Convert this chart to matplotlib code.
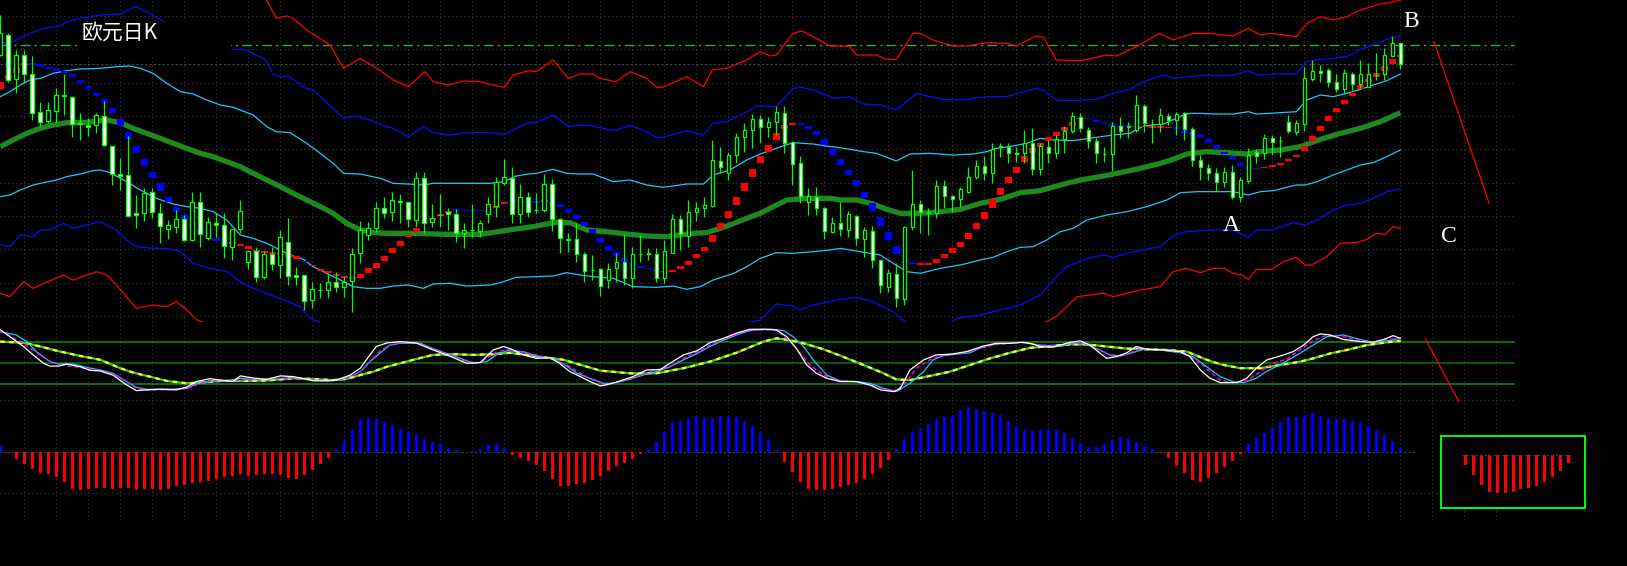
import numpy as np
import matplotlib.pyplot as plt
from matplotlib.patches import Rectangle

plt.rcParams['font.family'] = ['Noto Sans CJK SC', 'DejaVu Sans']

# price pane readings are taken top-down off the chart (3 units per pixel)
# and turned into a price with price = TOP - reading
TOP = 960

o_rd = [165, 105, 238, 165, 222, 337, 362, 332, 289, 290,
        369, 376, 376, 347, 437, 522, 525, 640, 640, 577,
        640, 688, 680, 657, 720, 605, 713, 670, 675, 740,
        687, 787, 753, 832, 762, 795, 725, 826, 826, 900,
        869, 870, 845, 862, 843, 760, 705, 685, 625, 637,
        604, 605, 660, 535, 667, 646, 637, 643, 700, 691,
        692, 643, 617, 548, 533, 643, 592, 629, 630, 553,
        657, 717, 718, 763, 809, 808, 840, 805, 787, 835,
        763, 759, 763, 835, 758, 658, 708, 635, 625, 617,
        482, 518, 465, 412, 390, 358, 380, 367, 340, 427,
        490, 607, 590, 625, 695, 668, 690, 647, 718, 693,
        780, 860, 823, 898, 680, 613, 636, 640, 558, 588,
        598, 575, 532, 497, 518, 441, 442, 459, 460, 428,
        508, 442, 460, 418, 392, 350, 390, 423, 461, 462,
        378, 381, 390, 318, 371, 372, 348, 360, 340, 388,
        480, 505, 520, 547, 515, 592, 542, 457, 458, 415,
        424, 365, 395, 372, 237, 213, 210, 247, 268, 222,
        253, 260, 226, 222, 168, 130]
c_rd = [100, 240, 165, 222, 338, 365, 330, 285, 286, 372,
        371, 382, 345, 435, 522, 528, 648, 646, 578, 637,
        678, 676, 657, 720, 605, 702, 667, 676, 738, 688,
        632, 753, 832, 762, 793, 710, 828, 830, 903, 868,
        871, 845, 862, 845, 762, 690, 683, 625, 640, 600,
        606, 658, 535, 668, 655, 644, 643, 700, 690, 689,
        670, 613, 547, 532, 643, 592, 635, 631, 553, 658,
        715, 719, 763, 812, 811, 858, 808, 787, 835, 763,
        761, 761, 835, 753, 658, 703, 637, 625, 615, 480,
        502, 465, 410, 390, 358, 382, 367, 337, 430, 493,
        587, 587, 625, 693, 668, 686, 643, 715, 690, 780,
        855, 820, 895, 680, 613, 637, 638, 558, 587, 598,
        567, 530, 497, 520, 448, 439, 460, 461, 428, 508,
        438, 460, 418, 392, 348, 385, 423, 460, 463, 378,
        393, 379, 315, 368, 373, 345, 360, 343, 388, 480,
        502, 520, 545, 515, 592, 540, 465, 468, 415, 425,
        422, 392, 370, 235, 213, 220, 247, 268, 220, 253,
        223, 223, 224, 165, 130, 193]
h_rd = [45, 100, 150, 150, 168, 307, 305, 265, 222, 287,
        340, 355, 340, 303, 437, 475, 407, 585, 565, 565,
        610, 660, 630, 645, 577, 577, 652, 640, 640, 688,
        600, 752, 740, 752, 740, 690, 655, 800, 826, 845,
        848, 820, 815, 828, 745, 662, 665, 605, 590, 577,
        582, 605, 515, 517, 612, 583, 625, 627, 670, 612,
        660, 590, 530, 477, 502, 552, 577, 578, 522, 538,
        655, 700, 670, 757, 765, 803, 790, 760, 702, 740,
        705, 745, 745, 720, 642, 645, 600, 605, 590, 420,
        440, 455, 400, 370, 343, 345, 350, 318, 317, 425,
        468, 563, 562, 620, 652, 607, 632, 645, 680, 678,
        780, 808, 790, 678, 510, 600, 625, 540, 540, 585,
        560, 500, 480, 467, 430, 428, 430, 440, 390, 385,
        428, 420, 405, 378, 335, 340, 382, 415, 440, 365,
        350, 365, 285, 312, 358, 325, 340, 335, 335, 380,
        465, 492, 505, 500, 495, 530, 445, 448, 402, 405,
        408, 345, 360, 200, 180, 195, 205, 222, 207, 215,
        180, 190, 158, 143, 108, 130]
l_rd = [168, 245, 280, 245, 360, 378, 370, 368, 345, 412,
        420, 408, 400, 437, 555, 570, 652, 683, 662, 655,
        730, 718, 700, 722, 722, 742, 720, 710, 773, 780,
        698, 808, 845, 838, 810, 835, 855, 855, 930, 925,
        895, 895, 875, 890, 935, 790, 720, 697, 655, 662,
        668, 680, 680, 700, 682, 680, 690, 727, 745, 712,
        710, 670, 652, 555, 668, 670, 650, 638, 637, 692,
        760, 757, 785, 845, 840, 888, 865, 845, 855, 865,
        785, 780, 845, 850, 760, 750, 742, 662, 652, 620,
        520, 540, 490, 455, 445, 430, 410, 405, 460, 555,
        610, 645, 645, 718, 700, 708, 712, 735, 770, 805,
        880, 875, 920, 915, 690, 700, 705, 655, 625, 637,
        622, 578, 538, 540, 548, 470, 488, 485, 490, 525,
        525, 488, 475, 458, 400, 395, 445, 488, 485, 512,
        415, 415, 395, 395, 428, 395, 375, 405, 420, 498,
        540, 540, 572, 560, 598, 605, 550, 490, 478, 465,
        470, 398, 405, 392, 242, 245, 260, 275, 280, 270,
        265, 262, 240, 240, 172, 207]

# trend blocks under the candles: colour, top and bottom readings
mk_col = ("rrrr" + "bbbbbbbbbbbbbbbbbbbbbbbbb" + "rrrrrrrrr" + "b" + "rrrrrrrrrrrrrrrrrr"
          + "bbbbb" + "rr" + "bbbb" + "r" + "bbbbbbbbbbbbbb" + "rrrrrrrrrrrrrrrrr"
          + "bbbbbbbbbbbbbbb" + "rrrrrrrrrrrrrrrrrrrrr" + "bbbbbb" + "rrrrr"
          + "bbbbbbbbbbb" + "rrrrrrrrrrrrrrrrrr")
mk_top = [245, 225, 203, 188, 188, 192, 200, 205, 212, 222,
          240, 258, 280, 298, 323, 358, 395, 438, 478, 515,
          550, 590, 622, 645, 668, 688, 700, 715, 725, 727,
          732, 738, 750, 752, 755, 758, 762, 768, 783, 795,
          807, 813, 822, 828, 830, 823, 805, 788, 768, 745,
          722, 705, 683, 665, 655, 643, 633, 628, 630, 630,
          630, 628, 618, 605, 600, 602, 603, 604, 600, 605,
          612, 628, 645, 665, 688, 713, 738, 756, 773, 788,
          797, 803, 808, 812, 810, 797, 783, 763, 740, 705,
          670, 633, 592, 548, 507, 468, 435, 400, 375, 368,
          370, 378, 393, 418, 447, 478, 510, 540, 575, 610,
          652, 697, 738, 782, 785, 790, 788, 777, 762, 745,
          727, 698, 668, 636, 598, 563, 530, 500, 468, 445,
          428, 410, 395, 380, 367, 353, 353, 360, 365, 372,
          375, 375, 377, 378, 378, 379, 380, 382, 390, 395,
          403, 418, 436, 455, 467, 490, 500, 503, 500, 495,
          489, 478, 465, 437, 408, 378, 348, 323, 300, 280,
          255, 237, 220, 198, 178, 165]
mk_bot = [268, 236, 218, 196, 195, 200, 207, 212, 218, 232,
          250, 268, 288, 308, 340, 378, 418, 460, 497, 533,
          572, 605, 635, 660, 680, 698, 710, 723, 735, 732,
          737, 746, 755, 758, 762, 765, 770, 776, 786, 798,
          812, 820, 828, 834, 838, 833, 818, 803, 783, 760,
          737, 712, 695, 670, 660, 648, 638, 633, 634, 634,
          634, 633, 623, 611, 606, 607, 608, 608, 605, 612,
          622, 638, 657, 677, 700, 728, 752, 768, 785, 798,
          803, 808, 815, 816, 815, 807, 795, 773, 752, 725,
          688, 653, 615, 573, 530, 490, 455, 420, 388, 374,
          376, 387, 405, 435, 465, 495, 525, 558, 593, 632,
          677, 720, 762, 790, 792, 796, 795, 788, 773, 758,
          740, 717, 688, 657, 623, 585, 548, 518, 485, 458,
          440, 422, 407, 392, 377, 358, 358, 366, 370, 377,
          380, 380, 382, 382, 383, 383, 384, 387, 398, 405,
          412, 428, 447, 462, 478, 497, 506, 508, 504, 500,
          494, 483, 470, 452, 422, 392, 362, 335, 311, 287,
          267, 247, 230, 212, 192, 172]

# band lines: candle index and reading at each vertex
ma_k = [0, 1.6, 3.3, 5, 6.6, 8.3, 10, 11.6, 13.3, 15, 16.6, 18.3, 20, 21.6, 23.3, 25, 26.6, 28.3, 30, 31.6,
        33.3, 35, 36.6, 38.3, 40, 41.6, 43.3, 45, 46.6, 48.3, 51.6, 55.8, 60, 64.1, 66.6, 69.1, 71.2, 73.3,
        75.8, 78.3, 80.8, 83.3, 86.6, 88.3, 90, 91.7, 93.3, 95, 96.6, 98.3, 100.8, 103.7, 105, 107, 109.1,
        110.8, 112.5, 115, 117.5, 120, 122.5, 125, 127.5, 130, 132.5, 135, 137.5, 140, 142.5, 145, 146.6,
        148.3, 150.8, 153.3, 155.8, 157.5, 160, 162.5, 165, 167.5, 170, 172.5, 175]
ma_v = [440, 420, 400, 385, 375, 368, 368, 365, 360, 368, 385, 400, 415, 430, 445, 460, 470, 485, 500, 520,
        540, 560, 580, 600, 620, 640, 670, 690, 698, 700, 700, 703, 703, 688, 680, 668, 668, 690,
        695, 702, 708, 710, 700, 698, 685, 670, 655, 640, 620, 600, 595, 595, 600, 600, 612,
        628, 640, 640, 635, 628, 610, 598, 578, 572, 555, 540, 530, 518, 505, 490, 478,
        462, 455, 458, 462, 455, 450, 440, 418, 400, 385, 365, 338]

cu_k = [0, 1.2, 2.5, 3.7, 5, 6.6, 8.3, 10, 12.5, 14.5, 16.2, 17.5, 19.1, 20.8, 22.5, 24.1, 25.8, 27.5, 29.1,
        31.6, 33.3, 34.5, 36.2, 38.3, 40, 41.6, 42.9, 45, 47.5, 49.1, 51, 52.9, 54.1, 57.9, 61.2, 62.9, 64.5,
        66, 67, 69.1, 70.8, 72.5, 74.1, 76.6, 78.7, 80.8, 82.9, 85.8, 87.9, 89.1, 91.2, 93.3, 95, 97, 99.1,
        101.6, 103.7, 104.1, 106.2, 107.9, 109.5, 112, 113.7, 116.2, 119.1, 121.6, 123.3, 124.5, 126.6,
        128.3, 130, 131.6, 134.1, 137, 139.1, 141.2, 142.9, 145.4, 147.9, 148.7, 150, 151.6, 154.1, 156,
        157, 158.7, 162, 163.3, 165, 166.6, 168.3, 170, 171.6, 173.3, 175]
cu_v = [290, 275, 255, 240, 235, 220, 212, 207, 205, 200, 198, 205, 220, 250, 275, 282, 300, 315, 322,
        345, 380, 395, 398, 430, 460, 490, 520, 522, 535, 550, 552, 555, 550, 550, 550, 545, 528,
        522, 520, 508, 520, 522, 522, 545, 540, 555, 562, 552, 552, 525, 510, 480, 462, 445, 428,
        432, 440, 440, 448, 455, 460, 483, 462, 460, 465, 462, 455, 445, 438,
        430, 415, 420, 422, 412, 405, 400, 378, 372, 345, 340, 340, 342, 342, 335,
        342, 340, 335, 300, 285, 290, 280, 268, 255, 242, 222]

cl_k = [0, 1.2, 2.5, 4.1, 5.4, 7, 8.3, 10, 11.6, 12.5, 13.7, 15.8, 17.5, 19.5, 21.6, 23.3, 25, 26.6, 28.3,
        30, 31.6, 33.3, 35, 36.2, 37.9, 39.1, 40.8, 42.5, 44.1, 45.8, 47.5, 49.1, 51, 52.9, 54.1, 56.2,
        58.3, 61.2, 62.5, 64.5, 67, 69.1, 70.8, 72.5, 74.1, 76.6, 79.1, 82, 84.1, 85.8, 87.5, 89.1, 91.7,
        93.3, 95, 97, 99.1, 101.6, 103.7, 105, 107.5, 110, 111.6, 113.3, 115, 117.5, 120, 122.5, 124.1,
        125.8, 127.5, 129.1, 130.8, 132.5, 134.1, 135.8, 138.3, 140.8, 143.3, 145.8, 147.5, 149.6, 150,
        152, 154.1, 156, 157.5, 159.1, 162, 163.1, 164.6, 166.6, 168.3, 170, 171.6, 173.3, 175]
cl_v = [590, 585, 570, 555, 548, 540, 530, 522, 512, 510, 518, 545, 570, 595, 612, 620, 625, 635, 660,
        705, 715, 730, 750, 765, 778, 800, 820, 840, 860, 865, 865, 858, 855, 865, 852, 850,
        858, 855, 848, 832, 830, 828, 818, 825, 830, 835, 860, 862, 858, 868, 860, 840, 820,
        800, 775, 758, 760, 755, 750, 745, 755, 765, 790, 815, 820, 805, 795, 780, 772,
        755, 742, 740, 720, 695, 685, 660, 645, 635, 620, 600, 578, 575, 575,
        575, 575, 585, 575, 572, 555, 555, 545, 525, 510, 495, 488, 470, 450]

bu_k = [0, 1.6, 3.7, 5.4, 7.5, 8.3, 10, 12.5, 15, 16.8, 18.3, 20.4, 24.5, 28.7, 30.4, 32, 33.1, 34.1, 35,
        36, 37.9, 39.1, 40, 41.6, 42.9, 44.5, 46.2, 47.9, 49.1, 51, 52.9, 54.1, 56.2, 58.3, 60, 61.2, 63,
        64.5, 66, 67, 69.1, 71, 72.5, 74.1, 76.6, 78.7, 80.8, 82, 82.8, 85.8, 87.9, 89.1, 90.8, 93.3,
        94.6, 97, 99.1, 100.2, 101.6, 103.7, 104.1, 106.2, 107.9, 110, 112, 114.5, 116.2, 117.9, 120.4,
        121.6, 123.3, 125.8, 127.5, 129.5, 130.4, 132, 134.1, 137, 139.1, 141.2, 142.9, 145.4, 146.7,
        148.7, 150.8, 152, 154.1, 156, 157.2, 159.1, 162, 163.3, 165, 166.6, 168.3, 170, 171.6, 173.3, 175]
bu_v = [130, 125, 100, 85, 78, 65, 55, 45, 42, 20, 35, 65, 105, 148, 148, 165, 178, 222, 230,
        228, 262, 270, 290, 325, 355, 348, 360, 378, 385, 410, 380, 398, 405, 398, 398, 398, 403,
        385, 368, 368, 345, 380, 375, 378, 392, 377, 395, 412, 412, 392, 405, 370, 365, 335,
        318, 320, 265, 262, 270, 290, 295, 290, 312, 315, 330, 280, 290, 298, 300,
        295, 290, 290, 278, 265, 272, 300, 302, 298, 280, 268, 245, 225, 235,
        230, 225, 228, 225, 212, 225, 222, 222, 185, 178, 175, 170, 148, 135, 118, 107]

bl_k = [0, 1.2, 2.5, 4.1, 5, 6.2, 7.9, 9.1, 10.8, 12.5, 13.7, 14.5, 15.8, 17, 19.1, 20.8, 22.5, 24.1,
        26.2, 28.3, 30, 31.6, 33.3, 35.4, 37.5, 38.3, 39.1, 45, 55, 65, 75, 85, 92, 95, 97, 99.1, 99.9,
        101.6, 103.7, 104.5, 107, 109.1, 111.6, 112.5, 115, 118, 119.5, 122.5, 125.8, 127.5, 130,
        131.6, 133.3, 135.8, 137.9, 139.1, 140.8, 143.7, 145, 146.7, 148.3, 150, 151.6, 154.1, 156,
        157, 158.9, 160.2, 161.6, 163.1, 164.6, 166.6, 168.3, 170, 171.6, 173.3, 175]
bl_v = [735, 740, 705, 710, 690, 690, 670, 685, 675, 665, 680, 690, 720, 740, 745, 745, 755, 790,
        805, 815, 845, 865, 880, 900, 920, 945, 960, 1000, 1010, 1000, 1010, 1000, 975, 960, 912, 918,
        930, 915, 905, 900, 892, 905, 935, 955, 990, 985, 955, 945, 925, 915, 885,
        840, 800, 775, 765, 772, 760, 745, 740, 705, 695, 692, 690, 690, 712,
        690, 690, 680, 668, 675, 660, 630, 615, 610, 595, 575, 567]

ru_k = [0, 10, 20, 28, 33.3, 34.5, 35.8, 36.6, 38.3, 41.2, 42.9, 45, 47.5, 49.1, 51, 53.1, 54.1, 56, 57.9,
        60, 61.2, 63, 64.1, 66, 67, 69.1, 71, 72.5, 74.1, 74.9, 77, 78.7, 80.8, 82, 82.8, 85.8, 87.9, 89,
        90.8, 93.3, 95, 96.2, 97, 99.1, 100.2, 101.6, 103.7, 105, 106.2, 107, 109.5, 110.7, 112, 114.1,
        115, 116.6, 119.1, 120.8, 123.3, 125.8, 127, 129.5, 130.4, 132, 135, 138.3, 139.5, 142, 144.9,
        146.6, 149.1, 151.2, 154.1, 156, 157.5, 158.7, 160.4, 162, 163.3, 165, 166.6, 168.3, 170, 172.5,
        174.2, 175]
ru_v = [-150, -130, -100, -60, 0, 55, 48, 55, 90, 135, 205, 175, 212, 240, 260, 215, 245, 255, 243,
        245, 253, 262, 225, 212, 215, 180, 235, 222, 222, 235, 245, 215, 235, 262, 262, 230, 260, 210,
        205, 180, 155, 168, 165, 100, 93, 110, 138, 138, 140, 165, 165, 178, 178, 100,
        100, 120, 138, 138, 128, 130, 138, 108, 112, 180, 182, 165, 168, 140, 100,
        120, 100, 100, 108, 85, 105, 100, 105, 110, 70, 50, 60, 50, 30, 12,
        5, 0]

rl_k = [0, 1.2, 2.9, 4.1, 5, 7.9, 9.1, 12, 13.3, 14.5, 15.4, 17, 19.1, 20.8, 22, 23.3, 24.6, 30, 40, 50,
        60, 70, 80, 90, 100, 110, 120, 128, 131.6, 132, 134.6, 137.9, 139.1, 142.5, 145, 146.6, 148.3,
        150, 151.6, 153, 154.1, 155.2, 156, 157, 158.9, 160.4, 162, 163.1, 163.9, 165.8, 167.5, 169.6,
        170.8, 172, 173.1, 174.1, 175]
rl_v = [880, 890, 845, 865, 855, 825, 840, 815, 825, 855, 880, 925, 915, 920, 905, 930, 960, 1010, 1060,
        1080, 1070, 1060, 1050, 1060, 1060, 1060, 1040, 1000, 955, 950, 890, 880, 890, 870, 860, 815,
        805, 818, 805, 805, 820, 825, 838, 808, 808, 785, 772, 795, 795, 770, 730, 727, 718, 700, 703,
        680, 685]

# oscillator pane (0..100)
wk = [0, 1.2, 2.9, 4.1, 5.4, 6.2, 7.3, 8.3, 10, 11.2, 12.5, 14.1, 15.8, 17, 18.3, 20, 22, 23.3, 24.5, 26.2,
      27.5, 29.1, 30, 31.6, 33.3, 35, 36.6, 38.3, 39.1, 40.8, 42, 43.7, 45, 46.2, 47, 48.3, 50, 52, 54.1, 55.8,
      58.3, 60, 61.6, 62.9, 63.7, 65.4, 67, 68.7, 69.9, 71.2, 72.5, 73.7, 75, 76.2, 77.5, 79.1, 80.8, 82.5,
      83.7, 85.4, 87.1, 88.7, 90.4, 92, 93.7, 95.4, 97, 98.3, 99.5, 100.8, 102, 103.3, 105, 107, 108.7, 110,
      111.7, 112.5, 113.7, 115.4, 117, 118.7, 120.8, 122.9, 124.5, 126.2, 127.9, 128.7, 130, 131.6, 133.7,
      135, 136.2, 137.5, 138.3, 139.5, 140.8, 142, 143.3, 145.4, 147.5, 148.7, 150, 151.2, 152.5, 154.6,
      155.8, 157, 158.3, 160, 161.6, 162.9, 164.1, 165, 166.2, 167.9, 170, 171.6, 172.9, 174.1, 175]
wv = [98, 88, 74, 62, 50, 46, 46, 49, 45, 40, 39, 33, 19, 11, 12, 13, 12, 16, 24, 28,
      26, 24, 32, 29, 27, 32, 31, 27, 25, 25, 26, 33, 43, 62, 74, 79, 81, 79, 69, 62,
      50, 51, 69, 74, 71, 62, 57, 58, 50, 38, 31, 24, 17.6, 20.5, 25, 31, 40.5, 41, 50, 62,
      68, 79.5, 85.7, 93, 98.6, 98.6, 97.6, 88, 71.4, 47.6, 35.7, 28.6, 23.8, 23.8, 19, 12, 9.5, 14, 40.5, 54.8,
      62, 62.9, 66.7, 74.8, 78.6, 78.6, 80, 78.6, 74, 73, 80, 82, 76, 64, 57, 59.5, 65, 74, 70, 69,
      66.7, 59.5, 40.5, 28.6, 22.4, 22.4, 28.6, 43, 54.8, 60.5, 66.7, 76, 88, 92, 90.5, 84, 81, 80, 84, 89.5,
      85.7]
ck = [0, 2, 3.3, 4.5, 6.2, 7.25, 9.1, 10.8, 12.5, 14.1, 15.8, 17, 18.3, 20.8, 23.3, 24.5, 26.2, 28.3, 30, 31.6,
      33.3, 35.4, 37.5, 39.1, 40.8, 42.5, 43.7, 45, 46.2, 47.5, 48.7, 50, 52.5, 54.1, 55.8, 57.5, 59.1, 60.8, 62,
      63.3, 65.4, 67.1, 69.1, 70.8, 72.1, 73.7, 75.4, 76.6, 78.3, 80.4, 82, 83.7, 85.4, 87.1, 88.7, 90.4, 92,
      93.7, 96.2, 97.9, 99.1, 100.4, 101.6, 103.3, 105, 107.1, 108.7, 110.4, 112, 113.7, 115.4, 116.6, 117.9,
      119.5, 121.2, 122.9, 124.5, 126.2, 127.5, 130, 132.5, 133.7, 135.4, 137, 138.7, 140, 141.2, 142.9, 145,
      147.5, 149.1, 150.8, 152.5, 154.1, 155.4, 157, 158.2, 160.3, 162.4, 164.1, 165.8, 167.9, 170, 171.6,
      173.3, 175]
cv = [95, 90.5, 81, 66.7, 52.4, 49, 49, 44, 40.5, 35.7, 23.8, 15.7, 12.9, 12.9, 14.3, 20.5, 25, 25, 28.6, 27,
      27, 28.6, 28.6, 26, 24.8, 26, 31, 38, 52.4, 65, 76, 78.6, 78.6, 71, 64, 57, 50, 52.4, 62, 68,
      66.7, 59.5, 57, 46, 35.7, 28.6, 21.4, 21.4, 26, 33.3, 38, 45, 55, 64, 74, 83, 90.5, 96.7, 99, 96.7,
      88, 74, 55, 33.3, 24.8, 23.8, 21.4, 14.3, 9.5, 21.4, 38, 55, 61, 63, 65, 74, 77.6, 78.6, 80, 76,
      74, 78.6, 78.6, 71, 62, 60.5, 64, 70, 69, 65, 59.5, 45, 31, 23.8, 22.4, 28.6, 38, 50, 64, 76,
      88, 90.5, 84, 80, 82, 85.7]
mgk = [0, 2.5, 4.1, 5.8, 7.5, 10, 12.5, 14.1, 15.8, 17, 18.3, 20.8, 23.3, 25, 26.6, 29.1, 31.6, 34.1, 36.6,
       39.1, 41.6, 43.3, 45, 46.2, 47.5, 48.7, 50, 52.5, 54.1, 55.8, 58.3, 60, 61.6, 63.3, 66.2, 68.7, 70.8,
       72.5, 74.1, 75.8, 77.5, 79.5, 81.6, 83.7, 85.8, 87.9, 89.5, 91.2, 92.9, 95, 97, 98.7, 100, 101.2,
       102.9, 104.5, 107, 109.1, 110.8, 112, 113.3, 114.5, 116.2, 117.9, 120, 122, 124.1, 126.2, 127.5, 130,
       132.5, 134.1, 135.8, 137.5, 139.1, 140.8, 142.5, 145, 147.5, 149.5, 151.2, 152.5, 154.1, 155.8,
       157.5, 159.1, 160.8, 162.4, 164.1, 165.8, 167.9, 170, 171.6, 173.3, 175]
mgv = [96, 81, 69, 55, 47.6, 44, 39.5, 34.8, 23.8, 14.3, 12, 12, 13.8, 21.4, 25, 25, 27, 28.6, 28.6, 26,
       25, 28.6, 38, 52.4, 68, 76, 79.5, 78.6, 70, 63, 52.4, 51, 64, 70, 64, 57, 47.6, 35.7, 26, 19,
       23.8, 31, 39.5, 45, 59.5, 71, 81, 88, 95, 98.5, 97.6, 81, 64, 47.6, 33.3, 26, 23.8, 17.6, 12, 11,
       23.8, 43, 55, 62, 64, 70, 76, 78.6, 80, 76, 75, 79.5, 77.6, 69, 59.5, 63, 71, 69, 66.7, 55,
       38, 26, 22.4, 25, 38, 50, 55.7, 69, 82, 90.5, 88, 82, 80, 84, 85.7]
sk = [0, 1.6, 3.3, 5, 7.5, 10, 12.5, 15, 16.6, 18.3, 20.8, 23.3, 25, 27.5, 29.1, 31.6, 34.1, 36.6, 39.1, 41.6,
      43.3, 45, 46.6, 48.3, 50, 51.6, 54.1, 56.6, 59.1, 61.6, 63.7, 70.4, 75, 78.7, 82, 85.4, 88.7, 92, 95.4,
      97, 98.7, 100.4, 102.9, 105.3, 107.9, 110.4, 112, 113.7, 116.2, 118.7, 121.2, 123.7, 126.2, 128.7,
      131.6, 133.7, 135.8, 138.3, 140.8, 143.3, 145.8, 148.3, 150.8, 152.5, 155, 157.5, 160, 162.5, 164.1,
      166.2, 168.3, 170.8, 173.3, 175]
sv = [81, 80, 78.6, 74, 66.7, 60.5, 55, 43, 36.7, 32, 24.8, 21.4, 22.4, 24.8, 25, 24.8, 26, 28.6, 27.6, 26,
      27.6, 33.3, 38, 45, 50, 55, 62, 63, 62, 63, 65, 55, 39.5, 35.7, 35.7, 43, 52.4, 65, 81, 85.7,
      83, 78.6, 70, 59.5, 47.6, 35.7, 27, 26, 32, 38, 47.6, 57, 65, 72, 75, 77, 77, 74, 71, 70,
      69, 66.7, 55, 48.6, 43, 43, 47.6, 52.4, 57, 64, 69, 76, 80, 82]

# histogram pane, one value per candle
hist = [20, -2, -20, -35, -50, -62, -65, -74, -89, -110,
        -113, -110, -106, -106, -110, -106, -106, -113, -110, -110,
        -113, -110, -101, -98, -92, -89, -86, -80, -74, -71,
        -65, -71, -68, -65, -65, -68, -76, -80, -68, -53,
        -35, -16, 7, 34, 67, 97, 103, 100, 91, 82,
        70, 61, 52, 40, 31, 25, 13, 7, 1, 3,
        10, 22, 25, 13, -8, -16, -26, -38, -56, -80,
        -100, -100, -94, -92, -83, -70, -56, -41, -32, -20,
        -4, 10, 31, 61, 88, 94, 100, 109, 103, 103,
        109, 106, 106, 94, 79, 58, 37, 7, -29, -59,
        -89, -110, -113, -113, -110, -104, -98, -92, -80, -65,
        -47, -23, 10, 40, 64, 70, 85, 100, 106, 112,
        127, 133, 130, 124, 118, 112, 94, 79, 67, 64,
        67, 67, 67, 58, 43, 28, 16, 16, 25, 37,
        46, 40, 31, 19, 10, -2, -16, -41, -62, -83,
        -89, -77, -62, -44, -26, -5, 25, 43, 58, 73,
        91, 106, 106, 112, 118, 109, 103, 100, 100, 94,
        88, 79, 67, 52, 34, 13]
# sketched continuation in the green box
box_hist = [-29, -59, -89, -109, -113, -112, -109, -102, -97, -92, -79, -64, -47, -24]

# hand-drawn forecast legs and labels
leg1_k, leg1_rd = [179.2, 186.1], [125, 610]
leg2_k, leg2_v = [178.1, 184.6], [85.7, -53.9]
labels = [('A', 153.9, 676), ('B', 176.3, 64), ('C', 181.1, 711)]


def lv(a):
    return TOP - np.asarray(a, dtype=float)


W, H = 1627, 566
XL = (-0.041, 189.33)
PW = 1515 / W
GRID = dict(color='#3c3c3c', linestyle=(0, (1, 2.6)), linewidth=0.8)

fig = plt.figure(figsize=(W / 100, H / 100), dpi=100, facecolor='black')
ax = fig.add_axes([0, 1 - 322 / H, PW, 322 / H])
sx = fig.add_axes([0, 1 - 402 / H, PW, 80 / H])
hx = fig.add_axes([0, 1 - 520 / H, PW, 118 / H])
for a in (ax, sx, hx):
    a.set_facecolor('black')
    a.set_xlim(*XL)
    a.set_xticks(np.arange(3, 190, 4))
    a.tick_params(length=0, labelbottom=False, labelleft=False)
    for s in a.spines.values():
        s.set_visible(False)
    a.grid(True, axis='x', **GRID)
    a.set_axisbelow(True)

# ---- price pane
ax.set_ylim(-6, TOP)
ax.set_yticks(np.arange(12, TOP, 100))
ax.grid(True, axis='y', **GRID)

ax.axhline(lv(193), color='#36424c', lw=0.9, linestyle=(0, (2, 1.5)), zorder=0.5)
ax.axhline(lv(135), color='#3aa63a', lw=1.0, linestyle=(0, (7, 3, 1.5, 3)), zorder=0.6)

ax.plot(ru_k, lv(ru_v), color='#ff0000', lw=0.9, zorder=1)
ax.plot(rl_k, lv(rl_v), color='#ff0000', lw=0.9, zorder=1)
ax.plot(bu_k, lv(bu_v), color='#0a0aff', lw=0.9, zorder=1)
ax.plot(bl_k, lv(bl_v), color='#0a0aff', lw=0.9, zorder=1)
ax.plot(cu_k, lv(cu_v), color='#1ec8ff', lw=0.9, zorder=1)
ax.plot(cl_k, lv(cl_v), color='#1ec8ff', lw=0.9, zorder=1)
ax.plot(ma_k, lv(ma_v), color='#1e8a1e', lw=3.8, solid_capstyle='butt', zorder=1.5)

k = np.arange(len(o_rd))
mcol = ['#ff0000' if ch == 'r' else '#0000ff' for ch in mk_col]
ax.bar(k, lv(mk_top) - lv(mk_bot), bottom=lv(mk_bot), width=0.95, color=mcol, zorder=2)

o, c, h, l = lv(o_rd), lv(c_rd), lv(h_rd), lv(l_rd)
up = c >= o
ax.vlines(k, l, h, color='#00ff00', lw=0.9, zorder=3)
ax.bar(k, np.maximum(np.abs(c - o), 2.5), bottom=np.minimum(o, c), width=0.46,
       color=np.where(up, 'black', 'white'), edgecolor='#00ff00', linewidth=0.9, zorder=4)

ax.add_patch(Rectangle((10, lv(165)), 18.7, lv(66) - lv(165), color='black', zorder=5))
ax.text(10.2, lv(97), '欧元日K', color='white', fontsize=15, ha='left', va='center', zorder=6,
        family=['Noto Sans CJK SC', 'DejaVu Sans'])
for t, tx, ty in labels:
    ax.text(tx, lv(ty), t, color='white', fontsize=17, ha='center', va='center',
            family='Liberation Serif', zorder=6)
ax.plot(leg1_k, lv(leg1_rd), color='#ff0000', lw=0.9, clip_on=False, zorder=6)

# ---- oscillator pane
sx.set_ylim(-5.3, 109)
sx.set_yticks([])
sx.hlines([80, 20], XL[0], XL[1], colors='#0b7a0b', lw=1.3, zorder=1)
sx.hlines(50, XL[0], XL[1], colors='#0a6a0a', lw=1.2, zorder=1)
sx.axhline(-2.4, **GRID)
sx.plot(sk, sv, color='#3cc83c', lw=1.6, zorder=2)
sx.plot(sk, sv, color='#ffff00', lw=1.6, linestyle=(0, (2, 2)), zorder=2.1)
sx.plot(ck, cv, color='#1ec8ff', lw=0.9, zorder=3)
sx.plot(mgk, mgv, color='#ff00ff', lw=1.0, linestyle=(0, (3, 2)), zorder=3.1)
sx.plot(wk, wv, color='white', lw=0.9, zorder=3.2)
sx.plot(leg2_k, leg2_v, color='#ff0000', lw=0.9, clip_on=False, zorder=6)

# ---- histogram pane
hist = np.asarray(hist)
hx.set_ylim(-203, 151)
hx.set_yticks([-123])
hx.grid(True, axis='y', **GRID)
hx.hlines(0, -1, 177, colors='#404040', linestyles=(0, (2, 2)), lw=0.8)
hx.bar(k, hist, width=0.38, color=np.where(hist >= 0, '#0000ff', '#ff0000'), zorder=2)

# ---- sketched continuation box
bx = fig.add_axes([1441 / W, 1 - 508 / H, 144 / W, 72 / H])
bx.set_facecolor('black')
bx.set_xlim(-3.11, 15.1)
bx.set_ylim(-158, 58)
bx.set_xticks([])
bx.set_yticks([])
for s in bx.spines.values():
    s.set_color('#00ff00')
    s.set_linewidth(1.4)
bx.hlines(0, -0.45, 13.3, colors='#404040', linestyles=(0, (2, 2)), lw=0.8)
bx.bar(np.arange(len(box_hist)), box_hist, width=0.38, color='#ff0000')

fig.savefig('out.png', dpi=100, facecolor='black')
